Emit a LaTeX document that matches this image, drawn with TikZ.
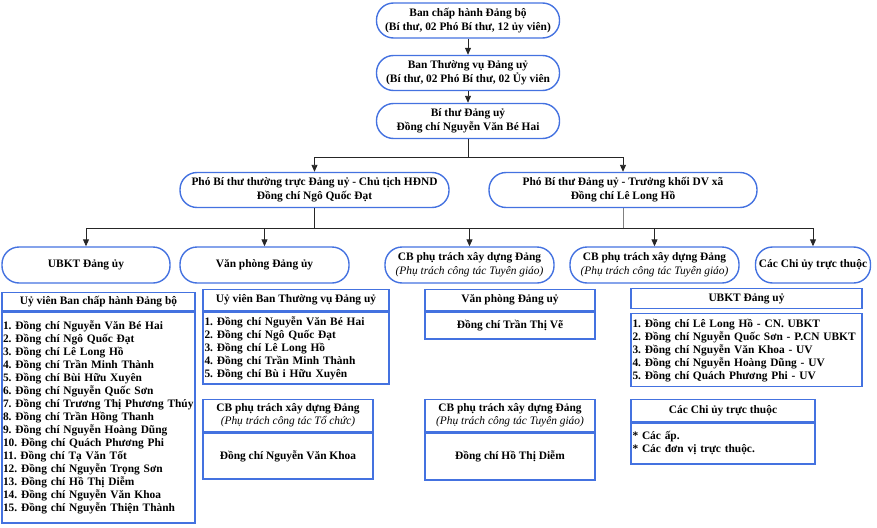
\documentclass[tikz,border=0pt]{standalone}
\usepackage{fontspec}
\setmainfont{Liberation Serif}
\usepackage{tikz}
\usetikzlibrary{arrows.meta,positioning,calc}
\definecolor{BorderBlue}{HTML}{4472E0}
\definecolor{LinkGray}{HTML}{808080}
\frenchspacing

\begin{document}
\begin{tikzpicture}[x=1pt,y=-1pt,>={Triangle[length=7pt,width=6pt]},
  unit/.style={draw=BorderBlue,line width=1.4pt,rounded corners=17pt,align=center,inner sep=1pt,minimum height=35pt,font=\bfseries\fontsize{11.4}{14}\selectfont},
  headbox/.style={draw=BorderBlue,line width=1.3pt,align=center,anchor=north,inner sep=1pt,font=\bfseries\fontsize{11.4}{13}\selectfont},
  listbox/.style={draw=BorderBlue,line width=1.3pt,align=left,anchor=north,inner sep=1.5pt,font=\bfseries\fontsize{11.4}{13}\selectfont},
  link/.style={->,line width=0.9pt,draw=black!85}]
  \useasboundingbox (0,0) rectangle (877,527);

  % top chain
  \node[unit,minimum width=183pt] (bch) at (468,20.5) {Ban chấp hành Đảng bộ\\(Bí thư, 02 Phó Bí thư, 12 ủy viên)};
  \node[unit,minimum width=183pt] (btv) at (468,73) {Ban Thường vụ Đảng uỷ\\(Bí thư, 02 Phó Bí thư, 02 Ủy viên};
  \node[unit,minimum width=183pt] (bithu) at (468,121) {Bí thư Đảng uỷ\\Đồng chí Nguyễn Văn Bé Hai};
  \draw[link] (bch) -- (btv);
  \draw[link] (btv) -- (bithu);

  % deputies
  \node[unit,minimum width=269pt] (phoL) at (314.5,190) {Phó Bí thư thường trực Đảng uỷ - Chủ tịch HĐND\\Đồng chí Ngô Quốc Đạt};
  \node[unit,minimum width=268pt] (phoR) at (623,190) {Phó Bí thư Đảng uỷ - Trưởng khối DV xã\\Đồng chí Lê Long Hồ};
  \coordinate (bar1) at (468,157);
  \draw[link] (bithu.south) -- (bar1) -| (phoL.north);
  \draw[link] (bar1) -| (phoR.north);

  % units
  \node[unit,minimum width=168pt,minimum height=36pt] (ubkt) at (86,265) {UBKT Đảng ủy};
  \node[unit,minimum width=169pt,minimum height=36pt] (vp) at (264.5,265) {Văn phòng Đảng ủy};
  \node[unit,minimum width=169pt,minimum height=36pt] (cbA) at (469.5,265) {CB phụ trách xây dựng Đảng\\{\mdseries\itshape (Phụ trách công tác Tuyên giáo)}};
  \node[unit,minimum width=169pt,minimum height=36pt] (cbB) at (654.5,265) {CB phụ trách xây dựng Đảng\\{\mdseries\itshape (Phụ trách công tác Tuyên giáo)}};
  \node[unit,minimum width=115pt,minimum height=36pt] (chi) at (813,265) {Các Chi ủy trực thuộc};
  \coordinate (bar2) at (314.5,228);
  \draw[line width=0.9pt,draw=black!85] (phoL.south) -- (bar2);
  \draw[line width=0.9pt,draw=LinkGray] (phoR.south) -- (phoR.south |- bar2);
  \draw[link] (bar2) -| (ubkt.north);
  \draw[link] (bar2) -| (vp.north);
  \draw[link] (bar2) -| (cbA.north);
  \draw[link] (bar2) -| (cbB.north);
  \draw[link] (bar2) -| (chi.north);

  % member lists
  \node[headbox,minimum width=193pt,minimum height=18pt] (hBch) at (98.5,292) {Uỷ viên Ban chấp hành Đảng bộ};
  \node[listbox,inner sep=1pt,text width=191pt,minimum height=211pt] (lBch) at (hBch.south) {1. Đồng chí Nguyễn Văn Bé Hai\\2. Đồng chí Ngô Quốc Đạt\\3. Đồng chí Lê Long Hồ\\4. Đồng chí Trần Minh Thành\\5. Đồng chí Bùi Hữu Xuyên\\6. Đồng chí Nguyễn Quốc Sơn\\7. Đồng chí Trương Thị Phương Thúy\\8. Đồng chí Trần Hồng Thanh\\9. Đồng chí Nguyễn Hoàng Dũng\\10. Đồng chí Quách Phương Phi\\11. Đồng chí Tạ Văn Tốt\\12. Đồng chí Nguyễn Trọng Sơn\\13. Đồng chí Hồ Thị Diễm\\14. Đồng chí Nguyễn Văn Khoa\\15. Đồng chí Nguyễn Thiện Thành};

  \node[headbox,minimum width=186pt,minimum height=21pt] (hBtv) at (296,289) {Uỷ viên Ban Thường vụ Đảng uỷ};
  \node[listbox,text width=183pt,minimum height=72pt] (lBtv) at (hBtv.south) {1. Đồng chí Nguyễn Văn Bé Hai\\2. Đồng chí Ngô Quốc Đạt\\3. Đồng chí Lê Long Hồ\\4. Đồng chí Trần Minh Thành\\5. Đồng chí Bù i Hữu Xuyên};

  \node[headbox,minimum width=170pt,minimum height=32pt] (hTc) at (288,399) {CB phụ trách xây dựng Đảng\\{\mdseries\itshape (Phụ trách công tác Tổ chức)}};
  \node[headbox,minimum width=170pt,minimum height=46pt] (lTc) at (hTc.south) {Đồng chí Nguyễn Văn Khoa};

  \node[headbox,minimum width=170pt,minimum height=21pt] (hVp) at (510,289) {Văn phòng Đảng uỷ};
  \node[headbox,minimum width=170pt,minimum height=27pt] (lVp) at (hVp.south) {Đồng chí Trần Thị Vẽ};

  \node[headbox,minimum width=170pt,minimum height=32pt] (hTg) at (510,399) {CB phụ trách xây dựng Đảng\\{\mdseries\itshape (Phụ trách công tác Tuyên giáo)}};
  \node[headbox,minimum width=170pt,minimum height=47pt] (lTg) at (hTg.south) {Đồng chí Hồ Thị Diễm};

  \node[headbox,minimum width=231pt,minimum height=20pt] (hUb) at (746.5,288) {UBKT Đảng uỷ};
  \node[listbox,text width=228pt,minimum height=73pt] (lUb) at (746.5,313) {1. Đồng chí Lê Long Hồ - CN. UBKT\\2. Đồng chí Nguyễn Quốc Sơn - P.CN UBKT\\3. Đồng chí Nguyễn Văn Khoa - UV\\4. Đồng chí Nguyễn Hoàng Dũng - UV\\5. Đồng chí Quách Phương Phi - UV};

  \node[headbox,minimum width=184pt,minimum height=22pt] (hChi) at (723,399) {Các Chi ủy trực thuộc};
  \node[listbox,text width=181pt,minimum height=41pt] (lChi) at (hChi.south) {* Các ấp.\\{}* Các đơn vị trực thuộc.};
\end{tikzpicture}
\end{document}
